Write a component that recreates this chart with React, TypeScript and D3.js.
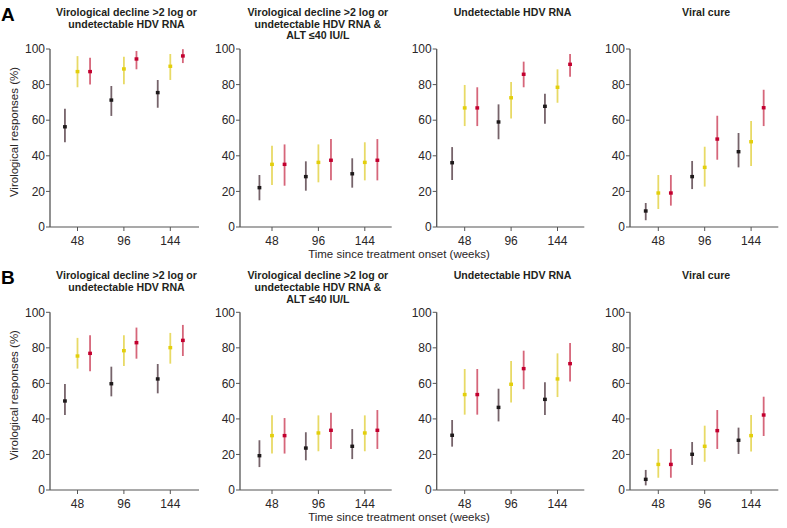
import React from "react";
import * as d3 from "d3";

// ---- data ----
const weeks = [48, 96, 144];
const groups = ["Group 1", "Group 2", "Group 3"];
const yTicks = [0, 20, 40, 60, 80, 100];

const title1 = ["Virological decline >2 log or", "undetectable HDV RNA"];
const title2 = ["Virological decline >2 log or", "undetectable HDV RNA &", "ALT ≤40 IU/L"];
const title3 = ["Undetectable HDV RNA"];
const title4 = ["Viral cure"];

// [group][week]
const A1_mid = [[56.3, 71.3, 75.5], [87.3, 88.8, 90.3], [87.3, 94.4, 96.1]];
const A1_lo = [[47.6, 62.4, 67.0], [78.5, 80.2, 82.6], [80.0, 88.6, 92.1]];
const A1_hi = [[66.5, 79.2, 82.6], [96.0, 95.7, 97.2], [95.1, 98.9, 99.9]];

const A2_mid = [[22.1, 28.3, 29.9], [35.2, 36.3, 36.3], [35.2, 37.5, 37.5]];
const A2_lo = [[15.0, 20.4, 22.1], [23.6, 25.1, 26.2], [23.2, 26.2, 26.2]];
const A2_hi = [[29.2, 36.9, 38.6], [45.7, 46.4, 47.6], [46.4, 49.4, 49.4]];

const A3_mid = [[36.1, 59.0, 67.8], [66.9, 72.6, 78.5], [66.9, 85.8, 91.4]];
const A3_lo = [[26.4, 49.3, 58.0], [56.7, 61.0, 69.8], [56.7, 78.5, 84.4]];
const A3_hi = [[44.9, 68.9, 74.9], [79.8, 81.5, 88.6], [78.5, 92.9, 97.2]];

const A4_mid = [[9.0, 28.3, 42.3], [19.1, 33.5, 47.9], [19.1, 49.4, 67.0]];
const A4_lo = [[3.8, 21.3, 33.5], [10.1, 22.7, 34.3], [12.0, 37.8, 56.7]];
const A4_hi = [[13.5, 37.1, 52.8], [29.2, 45.1, 59.6], [29.2, 62.5, 77.1]];

const B1_mid = [[50.1, 59.8, 62.5], [75.4, 78.4, 80.1], [76.9, 82.9, 84.2]];
const B1_lo = [[42.2, 52.7, 54.4], [68.3, 69.8, 71.1], [66.8, 73.9, 75.4]];
const B1_hi = [[59.7, 69.4, 70.9], [85.6, 87.1, 88.4], [87.1, 91.4, 92.9]];

const B2_mid = [[19.3, 23.6, 24.6], [30.6, 32.1, 32.1], [30.6, 33.6, 33.6]];
const B2_lo = [[12.9, 16.7, 17.4], [20.5, 21.8, 21.8], [20.5, 23.1, 23.1]];
const B2_hi = [[28.0, 32.5, 34.3], [42.0, 42.0, 42.0], [40.5, 43.5, 45.0]];

const B3_mid = [[30.8, 46.5, 51.0], [53.7, 59.5, 62.5], [53.7, 68.3, 71.1]];
const B3_lo = [[24.4, 38.6, 42.2], [42.4, 49.3, 52.3], [42.4, 56.7, 61.0]];
const B3_hi = [[39.4, 57.0, 60.6], [68.1, 72.6, 76.9], [68.1, 78.4, 82.7]];

const B4_mid = [[6.0, 20.1, 28.0], [14.4, 24.6, 30.6], [14.4, 33.4, 42.2]];
const B4_lo = [[2.6, 14.1, 20.3], [6.9, 15.9, 21.6], [6.9, 23.1, 30.4]];
const B4_hi = [[11.3, 27.0, 35.1], [23.1, 36.2, 42.2], [23.1, 45.0, 52.5]];

// ---- styling ----
const FONT = "'Liberation Sans', Arial, Helvetica, sans-serif";
const pointColors = ["#1e1a1b", "#e3cf0c", "#c3002f"];
const barColors = ["#76636a", "#e8da66", "#d6667a"];
const offsets = [-13, 0, 13]; // weeks offset for dodge

type PanelDef = { titles: string[]; mid: number[][]; lo: number[][]; hi: number[][] };

const rowA: PanelDef[] = [
  { titles: title1, mid: A1_mid, lo: A1_lo, hi: A1_hi },
  { titles: title2, mid: A2_mid, lo: A2_lo, hi: A2_hi },
  { titles: title3, mid: A3_mid, lo: A3_lo, hi: A3_hi },
  { titles: title4, mid: A4_mid, lo: A4_lo, hi: A4_hi },
];
const rowB: PanelDef[] = [
  { titles: title1, mid: B1_mid, lo: B1_lo, hi: B1_hi },
  { titles: title2, mid: B2_mid, lo: B2_lo, hi: B2_hi },
  { titles: title3, mid: B3_mid, lo: B3_lo, hi: B3_hi },
  { titles: title4, mid: B4_mid, lo: B4_lo, hi: B4_hi },
];

// column geometry: y-axis x, x of tick 48, end of x-axis
const cols = [
  { axisX: 50, t48: 77.5, end: 199 },
  { axisX: 240, t48: 272, end: 391.7 },
  { axisX: 436.7, t48: 464.7, end: 584.3 },
  { axisX: 630, t48: 658.3, end: 778.3 },
];

function Panel({ def, col, top, bottom, showYLabel }: { def: PanelDef; col: typeof cols[0]; top: number; bottom: number; showYLabel: boolean }) {
  const y = d3.scaleLinear().domain([0, 100]).range([bottom, top]);
  const x = d3.scaleLinear().domain([48, 144]).range([col.t48, col.t48 + 92.8]);
  const centerX = (col.axisX + col.end) / 2 + 2;
  return (
    <g>
      {def.titles.map((t, i) => (
        <text key={i} x={centerX} y={top - 33 + i * 11.6} textAnchor="middle" fontFamily={FONT} fontWeight="bold" fontSize={10.6} fill="#231f20">
          {t}
        </text>
      ))}
      {/* y axis */}
      <line x1={col.axisX} x2={col.axisX} y1={y(100)} y2={y(0)} stroke="#555" strokeWidth={1.3} />
      {yTicks.map((t) => (
        <g key={t}>
          <line x1={col.axisX - 4} x2={col.axisX} y1={y(t)} y2={y(t)} stroke="#555" strokeWidth={1} />
          <text x={col.axisX - 5} y={y(t)} dy="0.35em" textAnchor="end" fontFamily={FONT} fontSize={12} fill="#2a2627">
            {t}
          </text>
        </g>
      ))}
      {/* x axis */}
      <line x1={col.axisX} x2={col.end} y1={y(0)} y2={y(0)} stroke="#555" strokeWidth={1.2} />
      {weeks.map((w) => (
        <g key={w}>
          <line x1={x(w)} x2={x(w)} y1={y(0)} y2={y(0) + 4} stroke="#555" strokeWidth={1} />
          <text x={x(w)} y={y(0) + 18} textAnchor="middle" fontFamily={FONT} fontSize={12} fill="#2a2627">
            {w}
          </text>
        </g>
      ))}
      {showYLabel && (
        <text transform={`translate(14,${(y(0) + y(100)) / 2 - 6}) rotate(-90)`} textAnchor="middle" dy="0.35em" fontFamily={FONT} fontSize={11.5} fill="#2a2627">
          Virological responses (%)
        </text>
      )}
      {groups.map((g, gi) => (
        <g key={g}>
          {weeks.map((w, wi) => {
            const cx = x(w + offsets[gi]);
            return (
              <g key={w}>
                <line x1={cx} x2={cx} y1={y(def.lo[gi][wi])} y2={y(def.hi[gi][wi])} stroke={barColors[gi]} strokeWidth={1.8} />
                <rect x={cx - 1.9} y={y(def.mid[gi][wi]) - 1.7} width={3.8} height={3.4} fill={pointColors[gi]} />
              </g>
            );
          })}
        </g>
      ))}
    </g>
  );
}

export default function App() {
  const rows = [
    { label: "A", defs: rowA, top: 49, bottom: 227, labelY: 20.5 },
    { label: "B", defs: rowB, top: 312.3, bottom: 490, labelY: 283.5 },
  ];
  return (
    <svg width={787} height={528} style={{ position: "absolute", left: 0, top: 0, background: "#fff" }}>
      {rows.map((r) => (
        <g key={r.label}>
          <text x={1} y={r.labelY} fontFamily={FONT} fontWeight="bold" fontSize={19} fill="#000">
            {r.label}
          </text>
          {r.defs.map((d, i) => (
            <Panel key={i} def={d} col={cols[i]} top={r.top} bottom={r.bottom} showYLabel={i === 0} />
          ))}
          <text x={399} y={r.bottom + 31} textAnchor="middle" fontFamily={FONT} fontSize={11.5} fill="#2a2627">
            Time since treatment onset (weeks)
          </text>
        </g>
      ))}
    </svg>
  );
}
